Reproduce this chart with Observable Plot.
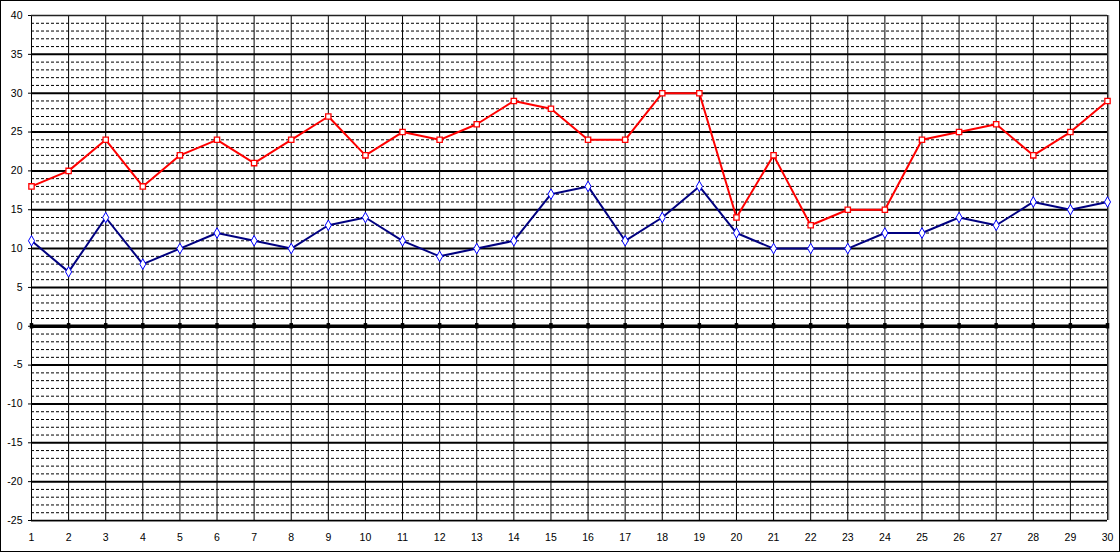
<!DOCTYPE html>
<html>
<head>
<meta charset="utf-8">
<script src="https://cdn.jsdelivr.net/npm/d3@7"></script>
<script src="https://cdn.jsdelivr.net/npm/@observablehq/plot@0.6"></script>
<style>
  html, body { margin: 0; padding: 0; background: #fff; }
  #chart svg { display: block; outline: 1px solid #000; outline-offset: -1px; }
</style>
</head>
<body>
<div id="chart"></div>
<script>
const days = d3.range(1, 31);
const highValues = [18, 20, 24, 18, 22, 24, 21, 24, 27, 22, 25, 24, 26, 29, 28, 24, 24, 30, 30, 14, 22, 13, 15, 15, 24, 25, 26, 22, 25, 29];
const lowValues  = [11, 7, 14, 8, 10, 12, 11, 10, 13, 14, 11, 9, 10, 11, 17, 18, 11, 14, 18, 12, 10, 10, 10, 12, 12, 14, 13, 16, 15, 16];
const yTicks = d3.range(-25, 41, 5);
const yMinor = d3.range(-25, 41, 1).filter(v => v % 5 !== 0);

const high = days.map((d, i) => ({day: d, value: highValues[i]}));
const low = days.map((d, i) => ({day: d, value: lowValues[i]}));

const font = "'Liberation Sans', Arial, sans-serif";
const plain = d => String(d);

const chart = Plot.plot({
  width: 1120,
  height: 552,
  marginLeft: 31,
  marginRight: 13,
  marginTop: 15,
  marginBottom: 32,
  style: {fontFamily: font, fontSize: "10.5px", color: "#000", background: "#fff"},
  x: {domain: [1, 30], label: null},
  y: {domain: [-25, 40], label: null},
  marks: [
    Plot.ruleY(yMinor, {stroke: "#000", strokeWidth: 1, strokeDasharray: "3,2"}),
    Plot.ruleX(days, {stroke: "#000", strokeWidth: 1}),
    Plot.ruleY(yTicks.filter(v => v !== 0 && v !== 40 && v !== -25), {stroke: "#000", strokeWidth: 2}),
    Plot.ruleY([40], {stroke: "#222", strokeWidth: 1.5}),
    Plot.ruleY([-25], {stroke: "#000", strokeWidth: 1.5}),
    Plot.ruleY([-25], {stroke: "#888", strokeWidth: 1, dy: 1}),
    Plot.ruleX([30], {stroke: "#888", strokeWidth: 1.5, dx: 1}),
    Plot.ruleY([0], {stroke: "#000", strokeWidth: 3.5}),
    Plot.ruleX(days, {y1: -0.35, y2: 0.35, stroke: "#000", strokeWidth: 3.5}),
    Plot.axisY({ticks: yTicks, tickFormat: plain, tickSize: 3, tickPadding: 6, label: null}),
    Plot.axisX({ticks: days, tickFormat: plain, tickSize: 0, tickPadding: 13, label: null}),
    Plot.line(low, {x: "day", y: "value", stroke: "#000080", strokeWidth: 2}),
    Plot.line(high, {x: "day", y: "value", stroke: "#ff0000", strokeWidth: 2}),
    Plot.dot(low, {x: "day", y: "value", symbol: "diamond", r: 3.2, fill: "#fff", stroke: "#0000ff", strokeWidth: 1}),
    Plot.dot(high, {x: "day", y: "value", symbol: "square", r: 3, fill: "#fff", stroke: "#ff0000", strokeWidth: 1.3})
  ]
});

document.getElementById("chart").appendChild(chart);
</script>
</body>
</html>
